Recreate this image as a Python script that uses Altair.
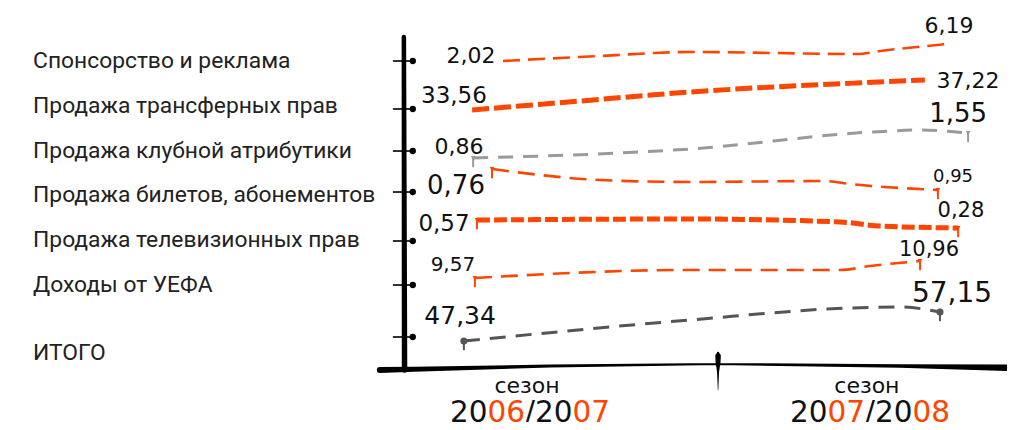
import altair as alt
import pandas as pd

# ---------------- data ----------------
categories = ["Спонсорство и реклама", "Продажа трансферных прав", "Продажа клубной атрибутики",
              "Продажа билетов, абонементов", "Продажа телевизионных прав", "Доходы от УЕФА", "ИТОГО"]
seasons = ["2006/2007", "2007/2008"]
v_2006_07 = [2.02, 33.56, 0.86, 0.76, 0.57, 9.57, 47.34]
v_2007_08 = [6.19, 37.22, 1.55, 0.95, 0.28, 10.96, 57.15]

# traced hand-drawn curve of every series: season position (0 = 2006/07, 1 = 2007/08) and row level
path_s = [
    [-0.070, 0.213, 0.475, 0.962, 1.029, 1.227],
    [-0.160, 0.155, 0.475, 0.962, 1.160],
    [-0.157, 0.475, 1.009, 1.146, 1.286],
    [-0.102, 0.213, 0.475, 0.869, 0.942, 1.198],
    [-0.146, 0.475, 0.913, 1.029, 1.257],
    [-0.152, 0.475, 0.913, 1.000, 1.146],
    [-0.184, 0.475, 0.942, 1.087, 1.204],
]
path_r = [
    [0.000, -0.109, -0.196, -0.152, -0.217, -0.370],
    [1.065, 0.870, 0.674, 0.478, 0.413],
    [2.109, 1.913, 1.543, 1.500, 1.565],
    [2.348, 2.587, 2.630, 2.609, 2.674, 2.804],
    [3.457, 3.435, 3.500, 3.587, 3.630],
    [4.717, 4.543, 4.543, 4.457, 4.348],
    [6.087, 5.630, 5.370, 5.348, 5.457],
]
has_pins = [False, False, True, True, True, True, True]

# ---------------- layout / style (not data) ----------------
ORANGE = "#FF4500"
line_color = [ORANGE, ORANGE, "#9a9a9a", ORANGE, ORANGE, ORANGE, "#555555"]
line_width = [2.6, 5, 3, 2.6, 5, 2.6, 3]
line_dash = [[17, 8], [17, 5], [15, 10], [17, 9], [13, 4], [17, 9], [16, 10]]

label_s0 = [-0.163, -0.213, -0.198, -0.207, -0.242, -0.216, -0.195]
label_r0 = [-0.109, 0.761, 1.870, 2.717, 3.543, 4.435, 5.543]
label_f0 = [22, 23, 22, 26, 23, 20, 25]
label_s1 = [1.230, 1.286, 1.257, 1.242, 1.265, 1.172, 1.239]
label_r1 = [-0.761, 0.435, 1.152, 2.522, 3.261, 4.109, 5.065]
label_f1 = [22, 22, 26, 18, 21, 21, 28]

cat_s = -1.440
cat_r = [0, 0.98, 1.96, 2.91, 3.89, 4.87, 6.35]
tick_r = [0.0, 1.043, 1.957, 2.848, 3.913, 4.870, 6.0]

W, H = 999, 414
xs = alt.Scale(domain=[-519 / 343, (W - 519) / 343], nice=False, zero=False)
ys = alt.Scale(domain=[-53 / 46, (H - 53) / 46], nice=False, zero=False, reverse=True)
X = lambda f: alt.X(f, type="quantitative", scale=xs, axis=None)
Y = lambda f: alt.Y(f, type="quantitative", scale=ys, axis=None)

def fmt(v):
    return f"{v:.2f}".replace(".", ",")

layers = []

# axes drawn by hand
axis_v = pd.DataFrame({"s": [-0.359, -0.357], "r": [-0.522, 6.717], "o": [0, 1], "w": [4.5, 5.5]})
layers.append(alt.Chart(axis_v).mark_trail(color="black").encode(
    x=X("s"), y=Y("r"), order="o:Q", size=alt.Size("w:Q", scale=None)))

base = pd.DataFrame({"s": [-0.429, -0.33, 0.067, 0.557, 1.087, 1.45],
                     "r": [6.717, 6.70, 6.630, 6.587, 6.630, 6.674],
                     "o": [0, 1, 2, 3, 4, 5], "w": [6, 5, 2.8, 2.2, 3.5, 7]})
layers.append(alt.Chart(base).mark_trail(color="black").encode(
    x=X("s"), y=Y("r"), order="o:Q", size=alt.Size("w:Q", scale=None)))

spindle = pd.DataFrame({"s": [0.557] * 5, "r": [6.348, 6.413, 6.543, 6.761, 7.152],
                        "o": [0, 1, 2, 3, 4], "w": [2.5, 5.5, 5, 2, 0.5]})
layers.append(alt.Chart(spindle).mark_trail(color="black").encode(
    x=X("s"), y=Y("r"), order="o:Q", size=alt.Size("w:Q", scale=None)))

ticks = pd.DataFrame([{"s": a, "r": r, "t": i} for i, r in enumerate(tick_r) for a in (-0.391, -0.335)])
layers.append(alt.Chart(ticks).mark_line(color="black", strokeWidth=1.6).encode(
    x=X("s"), y=Y("r"), detail="t:N"))
dots = pd.DataFrame({"s": [-0.333] * len(tick_r), "r": tick_r})
layers.append(alt.Chart(dots).mark_circle(color="black", size=40, opacity=1).encode(x=X("s"), y=Y("r")))

# dashed series lines
for i in range(len(categories)):
    d = pd.DataFrame({"s": path_s[i], "r": path_r[i], "o": list(range(len(path_s[i])))})
    layers.append(alt.Chart(d).mark_line(
        color=line_color[i], strokeWidth=line_width[i], strokeDash=line_dash[i],
        interpolate="monotone").encode(x=X("s"), y=Y("r"), order="o:Q"))

# end pins
pins = []
for i in range(len(categories)):
    if has_pins[i]:
        for k in (0, -1):
            pins.append({"s": path_s[i][k], "r": path_r[i][k], "c": line_color[i], "tot": i == 6})
pins = pd.DataFrame(pins)
layers.append(alt.Chart(pins).mark_point(shape="M0,0L0,1", filled=False, size=340, strokeWidth=2, opacity=1).encode(
    x=X("s"), y=Y("r"), stroke=alt.Stroke("c:N", scale=None)))
layers.append(alt.Chart(pins[~pins["tot"]]).mark_point(shape="triangle-down", filled=True, size=22, opacity=1).encode(
    x=X("s"), y=Y("r"), fill=alt.Fill("c:N", scale=None)))
layers.append(alt.Chart(pins[pins["tot"]]).mark_point(shape="circle", filled=True, size=50, opacity=1).encode(
    x=X("s"), y=Y("r"), fill=alt.Fill("c:N", scale=None)))

# value labels
vl = []
for i in range(len(categories)):
    vl.append({"s": label_s0[i], "r": label_r0[i], "t": fmt(v_2006_07[i]), "f": label_f0[i]})
    vl.append({"s": label_s1[i], "r": label_r1[i], "t": fmt(v_2007_08[i]), "f": label_f1[i]})
layers.append(alt.Chart(pd.DataFrame(vl)).mark_text(font="DejaVu Sans", color="#111", align="center",
                                                    baseline="middle").encode(
    x=X("s"), y=Y("r"), text="t:N", size=alt.Size("f:Q", scale=None)))

# category labels
cl = pd.DataFrame({"s": [cat_s] * len(categories), "r": cat_r, "t": categories})
layers.append(alt.Chart(cl).mark_text(font="Roboto", fontSize=22.8, color="#222", align="left",
                                      baseline="middle").encode(x=X("s"), y=Y("r"), text="t:N"))

# season labels
sl = pd.DataFrame({"s": [0.0, 0.991], "r": [7.065, 7.065], "t": ["сезон", "сезон"]})
layers.append(alt.Chart(sl).mark_text(font="DejaVu Sans", fontSize=22, color="#111", align="center",
                                      baseline="middle").encode(x=X("s"), y=Y("r"), text="t:N"))

# year labels, split into black and orange pieces (DejaVu Sans advance widths)
YF = 29.5
DIG, SL = 0.6362 * YF, 0.3369 * YF
total = 8 * DIG + SL
season_s = [0.009, 1.0]
year_r = 7.84
pieces = []
for j, s in enumerate(seasons):
    a, b = s.split("/")
    pieces += [
        {"s": season_s[j], "t": a[:2], "p": 0},
        {"s": season_s[j], "t": a[2:], "p": 1},
        {"s": season_s[j], "t": "/" + b[:2], "p": 2},
        {"s": season_s[j], "t": b[2:], "p": 3},
    ]
pieces = pd.DataFrame(pieces)
pieces["r"] = year_r
piece_dx = [-total / 2, -total / 2 + 2 * DIG, -total / 2 + 4 * DIG, -total / 2 + 6 * DIG + SL]
piece_col = ["#111", ORANGE, "#111", ORANGE]
for p in range(4):
    layers.append(alt.Chart(pieces[pieces["p"] == p]).mark_text(
        font="DejaVu Sans", fontSize=YF, color=piece_col[p], align="left", baseline="alphabetic",
        dx=piece_dx[p]).encode(x=X("s"), y=Y("r"), text="t:N"))

chart = alt.layer(*layers).properties(
    width=W, height=H, autosize=alt.AutoSizeParams(type="none"), padding=0
).configure_view(stroke=None)

chart.save("out.html", embed_options={"renderer": "svg", "actions": False})
